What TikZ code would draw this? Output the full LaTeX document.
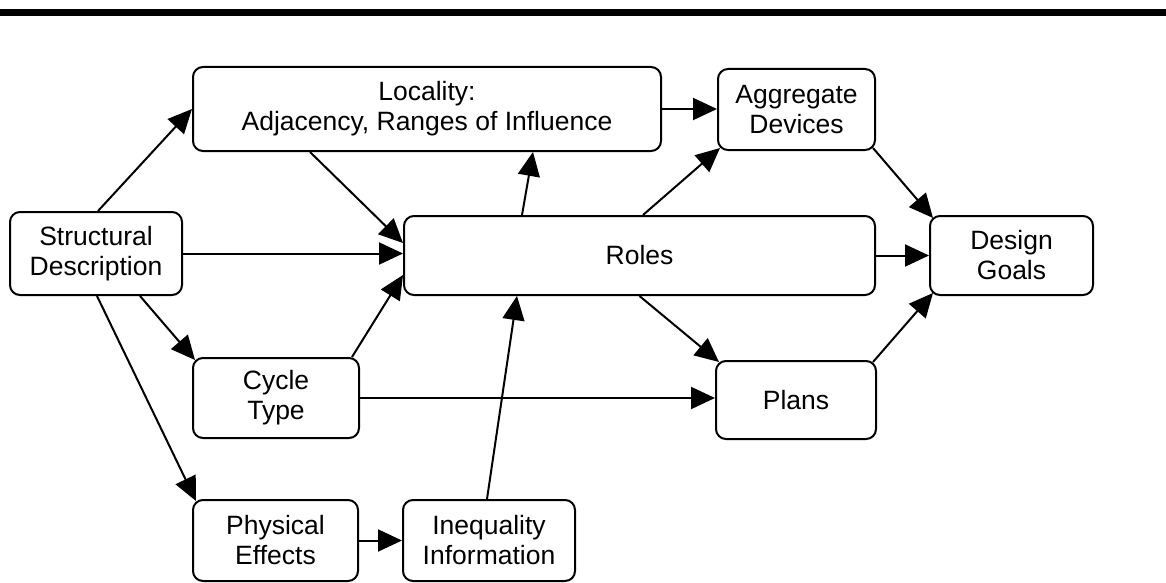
\documentclass[tikz,border=0pt]{standalone}
\usepackage{fontspec}
\setmainfont{Liberation Sans}
\usetikzlibrary{arrows.meta}
\begin{document}
\begin{tikzpicture}[x=1pt,y=-1pt,
  box/.style={draw,line width=2pt,rounded corners=10pt,inner sep=0pt,align=center,
    font=\fontsize{26.5}{30}\selectfont},
  conn/.style={line width=2pt,-{Triangle[length=24pt,width=22pt]}}]
\useasboundingbox (0,0) rectangle (1166,583);
\draw[line width=7pt] (0,13) -- (1166,13);
\node[box,minimum width=468pt,minimum height=84pt] (loc) at (427,109) {Locality:\\Adjacency, Ranges of Influence};
\node[box,minimum width=157pt,minimum height=81pt] (agg) at (796.5,109.5) {Aggregate\\Devices};
\node[box,minimum width=172pt,minimum height=83pt] (struct) at (96,253.5) {Structural\\Description};
\node[box,minimum width=471pt,minimum height=79pt] (roles) at (639.5,255.5) {Roles};
\node[box,minimum width=163pt,minimum height=79pt] (goals) at (1011.5,255.5) {Design\\Goals};
\node[box,minimum width=166pt,minimum height=80pt] (cycle) at (276,398) {Cycle\\Type};
\node[box,minimum width=160pt,minimum height=78pt] (plans) at (796,400) {Plans};
\node[box,minimum width=165pt,minimum height=81pt] (phys) at (275.5,540.5) {Physical\\Effects};
\node[box,minimum width=172pt,minimum height=81pt] (ineq) at (489,540.5) {Inequality\\Information};
\draw[conn] ([xshift=2pt]struct.north) -- (loc.west);
\draw[conn] ([xshift=-117pt]loc.south) -- ([yshift=12.5pt]roles.west);
\draw[conn] (struct.east) -- (struct.east -| roles.west);
\draw[conn] ([xshift=76pt]cycle.north) -- ([yshift=-19.5pt]roles.west);
\draw[conn] ([xshift=-117.5pt]roles.north) -- ([xshift=106pt]loc.south);
\draw[conn] (loc.east) -- (loc.east -| agg.west);
\draw[conn] ([xshift=3.5pt]roles.north) -- ([xshift=3pt,yshift=3pt]agg.south west);
\draw[conn] ([xshift=-3pt,yshift=3pt]agg.south east) -- ([xshift=4pt,yshift=-3pt]goals.north west);
\draw[conn] (roles.east) -- (goals.west);
\draw[conn] ([xshift=-4pt,yshift=-2pt]plans.north east) -- ([xshift=4pt,yshift=3pt]goals.south west);
\draw[conn] (roles.south) -- ([xshift=4pt,yshift=-2pt]plans.north west);
\draw[conn] (cycle.east) -- (cycle.east -| plans.west);
\draw[conn] ([xshift=44pt]struct.south) -- ([xshift=3pt,yshift=-3pt]cycle.north west);
\draw[conn] ([xshift=1pt]struct.south) -- ([xshift=4pt,yshift=-2pt]phys.north west);
\draw[conn] (phys.east) -- (ineq.west);
\draw[conn] ([xshift=-2pt]ineq.north) -- ([xshift=-122.5pt]roles.south);
\end{tikzpicture}
\end{document}
